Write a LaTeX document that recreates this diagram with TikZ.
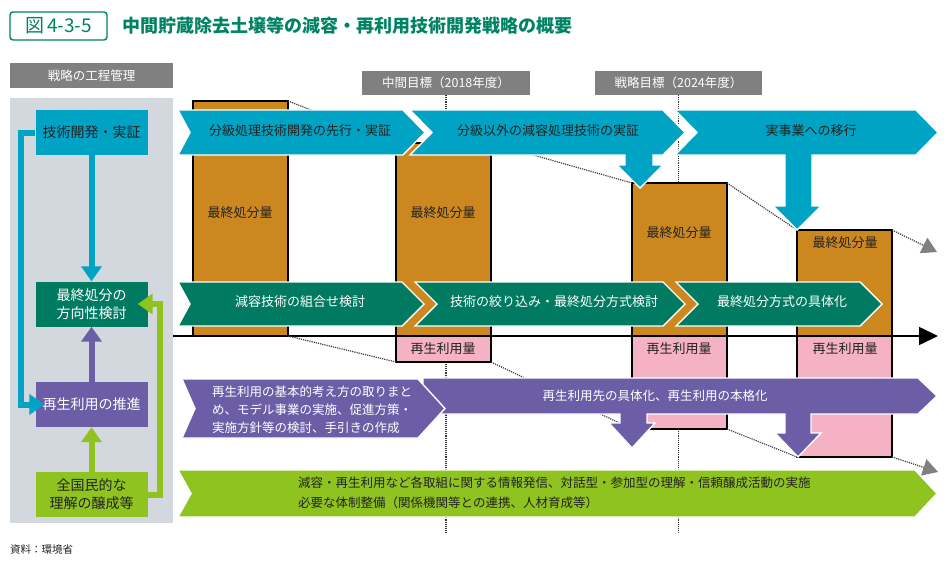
\documentclass[tikz,border=0pt]{standalone}
\usepackage{fontspec}
\setmainfont{Noto Sans CJK JP}
\usetikzlibrary{positioning, arrows.meta}
\definecolor{tealtitle}{RGB}{0,130,100}
\definecolor{cyanband}{RGB}{0,163,196}
\definecolor{greenband}{RGB}{0,122,96}
\definecolor{purpleband}{RGB}{107,94,166}
\definecolor{limeband}{RGB}{143,195,31}
\definecolor{barorange}{RGB}{204,136,30}
\definecolor{barpink}{RGB}{245,178,197}
\definecolor{panelgrey}{RGB}{211,215,222}
\definecolor{headgrey}{RGB}{128,128,128}
\definecolor{inkdark}{RGB}{35,35,35}

\begin{document}
\begin{tikzpicture}[x=1pt, y=-1pt,
  lbl/.style={inner sep=0pt, text=inkdark, font=\fontsize{13}{16}\selectfont},
  wlbl/.style={lbl, text=white},
  head/.style={fill=headgrey, text=white, inner sep=0pt, minimum height=25pt, font=\fontsize{12.5}{15}\selectfont},
  stage/.style={minimum width=112pt, minimum height=45pt, inner sep=0pt, align=center, font=\fontsize{14}{18}\selectfont},
  bar/.style={draw=black, line width=1.6pt, inner sep=0pt, outer sep=0pt, anchor=north west, minimum width=95pt},
  band/.style={draw=white, line width=1.4pt},
  guide/.style={densely dotted, line width=1.1pt, draw=black!80},
  trend/.style={densely dotted, line width=1.2pt, draw=black!75},
  trendend/.style={trend, -{Triangle[length=15pt, width=17pt, color=headgrey]}},
  feed/.style={line width=6pt, line join=miter, -{Triangle[length=15pt, width=20pt]}}
]
\useasboundingbox (0,0) rectangle (949,567);

\node[draw=tealtitle, line width=1.4pt, rounded corners=3pt, minimum width=97pt, minimum height=28pt, inner sep=0pt, text=tealtitle, font=\fontsize{19}{22}\selectfont] (fig) at (58.5,26) {図\,4-3-5};
\node[anchor=west, inner sep=0pt, text=tealtitle, font=\fontsize{18}{22}\selectfont\bfseries] (title) at (122,26) {中間貯蔵除去土壌等の減容・再利用技術開発戦略の概要};

\node[head, minimum width=163pt] (mgmt) at (91.5,75.5) {戦略の工程管理};
\fill[panelgrey] (10,98) rectangle (173,523);

\node[head, minimum width=168pt, minimum height=24pt] (midgoal) at (446,83) {中間目標（2018年度）};
\node[head, minimum width=167pt, minimum height=24pt] (stratgoal) at (678.5,83) {戦略目標（2024年度）};
\coordinate (midend) at (446,533);
\coordinate (stratend) at (678.5,533);
\draw[guide] (midgoal.south) -- (midend);
\draw[guide] (stratgoal.south) -- (stratend);

\node[bar, fill=barorange, minimum height=235pt] (bar1) at (193,101) {};
\node[bar, fill=barorange, minimum height=193pt] (bar2) at (396,143) {};
\node[bar, fill=barorange, minimum height=153pt] (bar3) at (632,183) {};
\node[bar, fill=barorange, minimum height=106pt] (bar4) at (797,230) {};
\node[bar, fill=barpink, minimum height=26pt] (pink2) at (396,336) {};
\node[bar, fill=barpink, minimum height=93pt] (pink3) at (632,336) {};
\node[bar, fill=barpink, minimum height=121pt] (pink4) at (797,336) {};

\coordinate (axisstart) at (173,336);
\coordinate (axisend) at (938,336);
\draw[line width=1.6pt, -{Triangle[length=19pt, width=18pt]}] (axisstart) -- (axisend);

\coordinate (topend) at (937,252);
\coordinate (lowend) at (938,472);
\draw[trend] (bar1.north east) -- (bar2.north west);
\draw[trend] (bar2.north east) -- (bar3.north west);
\draw[trend] (bar3.north east) -- (bar4.north west);
\draw[trendend] (bar4.north east) -- (topend);
\draw[trend] (bar1.south east) -- (pink2.south west);
\draw[trend] (pink2.south east) -- (pink3.south west);
\draw[trend] (pink3.south east) -- (pink4.south west);
\draw[trendend] (pink4.south east) -- (lowend);

\node[lbl] (amt1) at (240,213) {最終処分量};
\node[lbl] (amt2) at (443,213) {最終処分量};
\node[lbl] (amt3) at (679,233) {最終処分量};
\node[lbl] (amt4) at (845,243) {最終処分量};
\node[lbl] (re2) at (443,349) {再生利用量};
\node[lbl] (re3) at (679,349) {再生利用量};
\node[lbl] (re4) at (845,349) {再生利用量};

\filldraw[band, fill=cyanband] (178,110) -- (403,110) -- (425,132.5) -- (403,155) -- (178,155) -- (190,132.5) -- cycle;
\filldraw[band, fill=cyanband] (410,110) -- (663,110) -- (685,132.5) -- (663,155) -- (653,155) -- (653,165) -- (663,165) -- (640,188) -- (617,165) -- (625,165) -- (625,155) -- (410,155) -- (432,132.5) -- cycle;
\filldraw[band, fill=cyanband] (675,110) -- (916,110) -- (938,132.5) -- (916,155) -- (812,155) -- (812,206) -- (821,206) -- (797,230) -- (773,206) -- (785,206) -- (785,155) -- (675,155) -- (697,132.5) -- cycle;

\filldraw[band, fill=greenband] (178,282) -- (402,282) -- (424,304) -- (402,326) -- (178,326) -- (190,304) -- cycle;
\filldraw[band, fill=greenband] (415,282) -- (663,282) -- (685,304) -- (663,326) -- (415,326) -- (437,304) -- cycle;
\filldraw[band, fill=greenband] (676,282) -- (860,282) -- (882,304) -- (860,326) -- (676,326) -- (698,304) -- cycle;

\filldraw[band, fill=purpleband] (423,378) -- (918,378) -- (937,396) -- (918,414) -- (811,414) -- (811,433) -- (821,433) -- (798,457) -- (775,433) -- (785,433) -- (785,414) -- (647,414) -- (647,423) -- (655,423) -- (632,448) -- (609,423) -- (620,423) -- (620,414) -- (423,414) -- cycle;
\filldraw[band, fill=purpleband] (182,379) -- (418,379) -- (445,408.5) -- (418,438) -- (182,438) -- (195,408.5) -- cycle;

\filldraw[band, fill=limeband] (178,470) -- (915,470) -- (937,493.5) -- (915,517) -- (178,517) -- (191,493.5) -- cycle;

\node[lbl] (c1) at (300,131) {分級処理技術開発の先行・実証};
\node[lbl] (c2) at (548,131) {分級以外の減容処理技術の実証};
\node[lbl] (c3) at (811,131) {実事業への移行};
\node[wlbl] (g1) at (300,302) {減容技術の組合せ検討};
\node[wlbl] (g2) at (554,302) {技術の絞り込み・最終処分方式検討};
\node[wlbl] (g3) at (782,302) {最終処分方式の具体化};
\node[wlbl, anchor=west, align=left, font=\fontsize{12.5}{18}\selectfont] (p1) at (212,410) {再生利用の基本的考え方の取りまと\\め、モデル事業の実施、促進方策・\\実施方針等の検討、手引きの作成};
\node[wlbl, font=\fontsize{12.5}{15}\selectfont] (p2) at (655,396) {再生利用先の具体化、再生利用の本格化};
\node[lbl, anchor=west, align=left, font=\fontsize{12.5}{20}\selectfont] (l1) at (298,493) {減容・再生利用など各取組に関する情報発信、対話型・参加型の理解・信頼醸成活動の実施\\必要な体制整備（関係機関等との連携、人材育成等）};

\node[stage, fill=cyanband, text=inkdark] (tech) at (91.5,132.5) {技術開発・実証};
\node[stage, fill=greenband, text=white] (final) at (91.5,304) {最終処分の\\方向性検討};
\node[stage, fill=purpleband, text=white] (reuse) at (91.5,404.5) {再生利用の推進};
\node[stage, fill=limeband, text=inkdark] (people) at (91.5,494.5) {全国民的な\\理解の醸成等};

\draw[feed, cyanband] (tech.south) -- (final.north);
\draw[feed, cyanband, shorten >=-9pt] (tech.west) -- ++(-14,0) |- (reuse.west);
\draw[feed, purpleband] (reuse.north) -- (final.south);
\draw[feed, limeband] (people.north) -- (reuse.south);
\draw[feed, limeband, shorten >=-10pt] (people.east) -- ++(12,0) |- (final.east);

\node[anchor=west, inner sep=0pt, text=inkdark, font=\fontsize{10.5}{13}\selectfont] (src) at (10,550) {資料：環境省};
\end{tikzpicture}
\end{document}
